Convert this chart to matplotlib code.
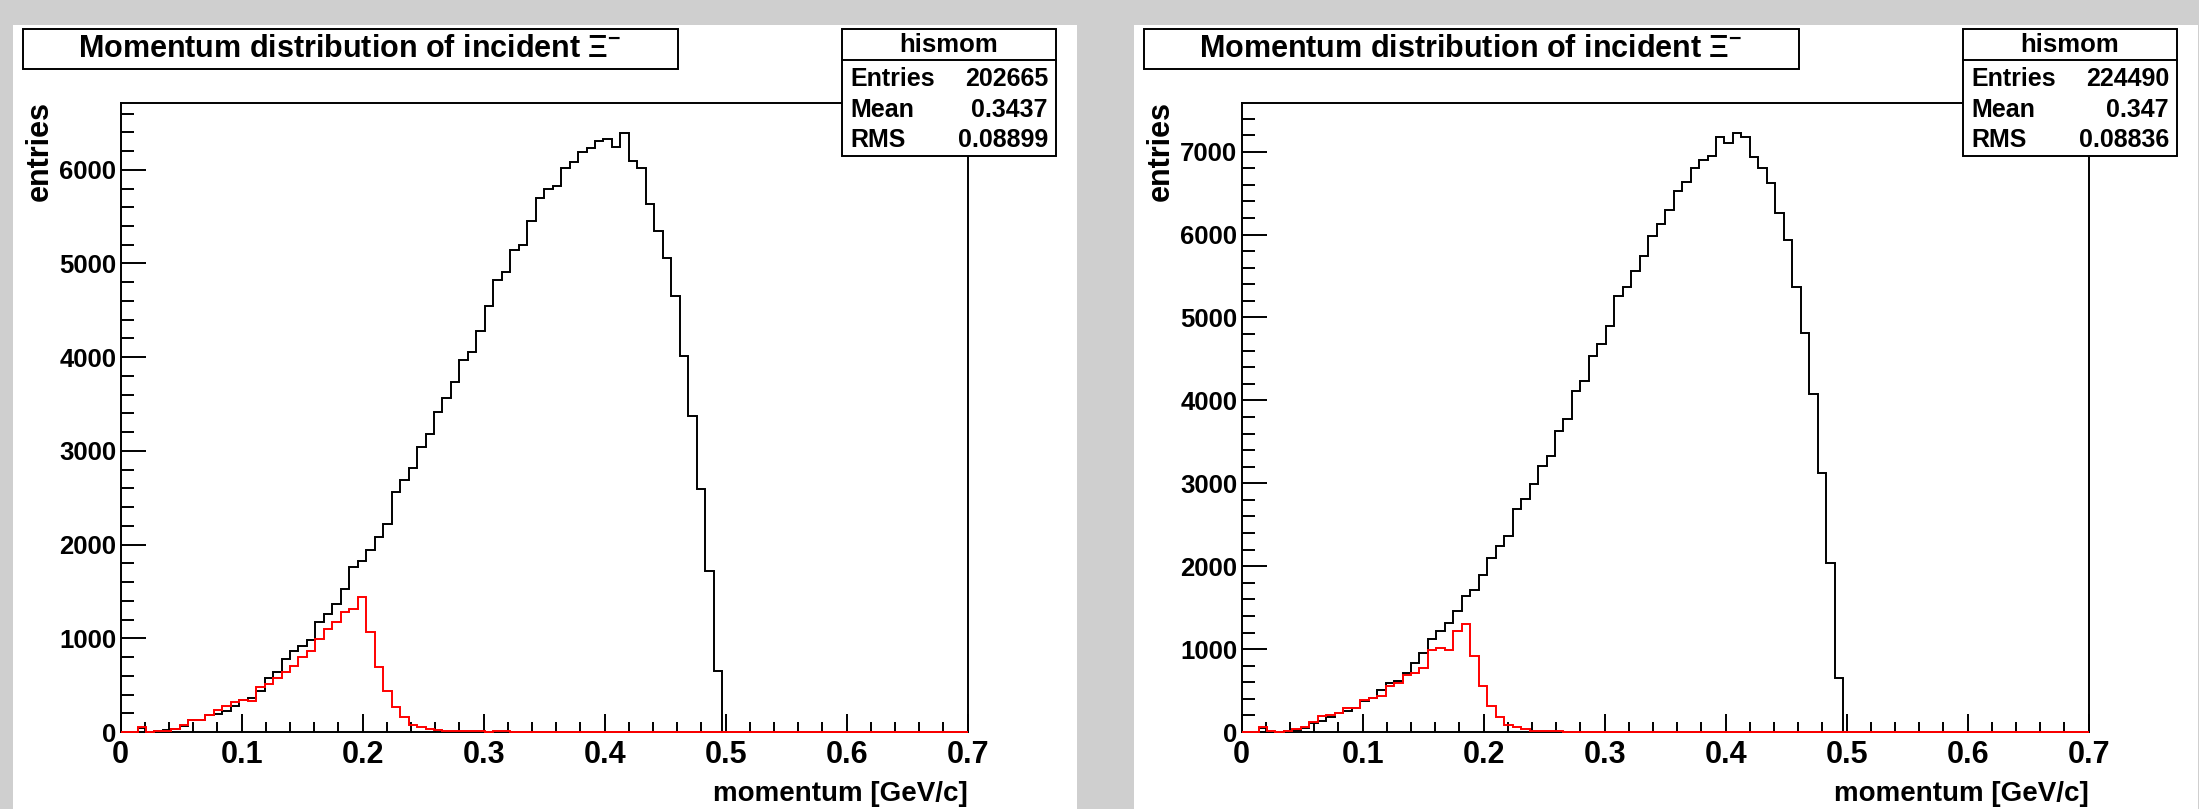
"""Momentum distribution of incident Xi- : two ROOT-style histogram pads."""

import matplotlib

matplotlib.use("Agg")
import matplotlib.pyplot as plt
import numpy as np
from matplotlib.lines import Line2D
from matplotlib.patches import Rectangle
from matplotlib.ticker import FuncFormatter, MultipleLocator

W, H = 2199, 809
N_BINS = 100
X_MAX = 0.7

# bin contents, 100 bins of 0.007 GeV/c
left_all = [
    0, 0, 45, 0, 10, 18, 36, 60, 125, 125,
    179, 196, 225, 279, 346, 368, 440, 573, 638, 780,
    866, 922, 981, 1175, 1264, 1370, 1530, 1764, 1828, 1940,
    2083, 2225, 2564, 2688, 2816, 3037, 3183, 3413, 3568, 3740,
    3973, 4057, 4278, 4551, 4829, 4906, 5144, 5202, 5449, 5696,
    5800, 5825, 6015, 6078, 6190, 6231, 6312, 6325, 6244, 6393,
    6096, 6015, 5638, 5346, 5063, 4650, 4012, 3375, 2595, 1713,
    650,
] + [0] * 29
left_sel = [
    0, 0, 57, 0, 13, 13, 35, 75, 133, 133,
    177, 234, 274, 323, 345, 336, 477, 508, 575, 641,
    707, 796, 862, 995, 1096, 1172, 1282, 1317, 1437, 1070,
    698, 433, 265, 164, 80, 57, 35, 18, 10, 8,
    8, 8, 6, 0, 6, 6, 5, 0, 0, 5,
    5, 0, 0, 0, 0, 0, 5, 0, 5, 0,
] + [0] * 40

right_all = [
    0, 0, 50, 0, 0, 15, 25, 50, 110, 135,
    175, 225, 250, 290, 376, 411, 501, 586, 616, 716,
    836, 951, 1127, 1217, 1317, 1462, 1642, 1718, 1893, 2093,
    2243, 2364, 2694, 2814, 2995, 3210, 3334, 3629, 3780, 4111,
    4237, 4532, 4680, 4903, 5259, 5371, 5564, 5742, 5981, 6123,
    6291, 6530, 6631, 6809, 6895, 6946, 7175, 7099, 7226, 7180,
    6936, 6809, 6621, 6260, 5935, 5371, 4812, 4080, 3130, 2043,
    657,
] + [0] * 29
right_sel = [
    0, 0, 65, 15, 0, 15, 40, 65, 125, 190,
    200, 235, 285, 285, 386, 411, 436, 551, 591, 691,
    716, 776, 991, 1017, 991, 1217, 1297, 911, 551, 315,
    175, 90, 65, 40, 15, 15, 10, 10, 0, 6,
    6, 0, 6, 0, 0, 6, 0, 0, 6, 0,
    0, 0, 0, 0, 6, 6, 0, 6, 0, 0,
    0, 0, 6,
] + [0] * 37

hist_name = "hismom"
title = r"Momentum distribution of incident $\Xi^{-}$"
x_title = "momentum [GeV/c]"
y_title = "entries"
stat_labels = ["Entries", "Mean", "RMS"]
left_stats = ["202665", "0.3437", "0.08899"]
right_stats = ["224490", "0.347", "0.08836"]

plt.rcParams["font.family"] = ["Liberation Sans", "DejaVu Sans"]
plt.rcParams["font.weight"] = "bold"
plt.rcParams["mathtext.fontset"] = "custom"
plt.rcParams["mathtext.rm"] = "Liberation Sans"
plt.rcParams["mathtext.it"] = "Liberation Sans:italic"
plt.rcParams["mathtext.bf"] = "Liberation Sans:bold"

LW = 1.4


def fx(x):
    return x / W


def fy(y):
    return 1 - y / H


def _box(fig, x0, y0, x1, y1, z=5):
    fig.patches.append(
        Rectangle(
            (fx(x0), fy(y1)), fx(x1 - x0), (y1 - y0) / H,
            transform=fig.transFigure, facecolor="white",
            edgecolor="black", lw=LW, zorder=z,
        )
    )


def draw_pad(fig, off, h_all, h_sel, stats):
    fig.patches.append(
        Rectangle(
            (fx(13 + off), 0), fx(1064), fy(25),
            transform=fig.transFigure, facecolor="white",
            edgecolor="none", zorder=-1,
        )
    )
    ax = fig.add_axes([fx(120.6 + off), fy(732), fx(847.1), (732 - 103) / H])
    edges = np.linspace(0, X_MAX, N_BINS + 1)
    ax.stairs(h_all, edges, color="black", lw=LW, baseline=None, zorder=3, clip_on=False)
    ax.stairs(h_sel, edges, color="#ff0000", lw=LW, baseline=None, zorder=4, clip_on=False)
    ax.set_xlim(0, X_MAX)
    ax.set_ylim(0, max(h_all) * 1.05)

    for sp in ax.spines.values():
        sp.set_linewidth(LW)
    ax.xaxis.set_major_locator(MultipleLocator(0.1))
    ax.xaxis.set_minor_locator(MultipleLocator(0.02))
    ax.yaxis.set_major_locator(MultipleLocator(1000))
    ax.yaxis.set_minor_locator(MultipleLocator(200))
    ax.xaxis.set_major_formatter(FuncFormatter(lambda v, p: f"{v:g}"))
    ax.yaxis.set_major_formatter(FuncFormatter(lambda v, p: f"{v:.0f}"))
    ax.tick_params(axis="x", which="major", direction="in", length=13, width=LW,
                   labelsize=22, pad=6)
    ax.tick_params(axis="x", which="minor", direction="in", length=7, width=LW)
    ax.tick_params(axis="y", which="major", direction="in", length=18, width=LW,
                   labelsize=18.5, pad=3)
    ax.tick_params(axis="y", which="minor", direction="in", length=9.5, width=LW)

    fig.text(fx(968 + off), fy(794), x_title, ha="right", va="center", fontsize=20)
    fig.text(fx(40 + off), fy(101), y_title, rotation=90, ha="center", va="top",
             fontsize=22)

    # title pave
    _box(fig, 22.5 + off, 29, 678 + off, 69)
    fig.text(fx(350 + off), fy(49), title, ha="center", va="center", fontsize=22,
             zorder=6)

    # stats box
    _box(fig, 842 + off, 29, 1056 + off, 156)
    fig.lines.append(
        Line2D([fx(842 + off), fx(1056 + off)], [fy(60), fy(60)],
               transform=fig.transFigure, color="black", lw=LW, zorder=6)
    )
    fig.text(fx(949 + off), fy(45), hist_name, ha="center", va="center",
             fontsize=18.5, zorder=6)
    for lab, val, yy in zip(stat_labels, stats, [79, 110, 140]):
        fig.text(fx(850 + off), fy(yy), lab, ha="left", va="center", fontsize=18,
                 zorder=6)
        fig.text(fx(1048 + off), fy(yy), val, ha="right", va="center", fontsize=18,
                 zorder=6)
    return ax


fig = plt.figure(figsize=(W / 100, H / 100), dpi=100, facecolor="#cfcfcf")
draw_pad(fig, 0, left_all, left_sel, left_stats)
draw_pad(fig, 1121, right_all, right_sel, right_stats)
fig.savefig("out.png", dpi=100, facecolor=fig.get_facecolor())
